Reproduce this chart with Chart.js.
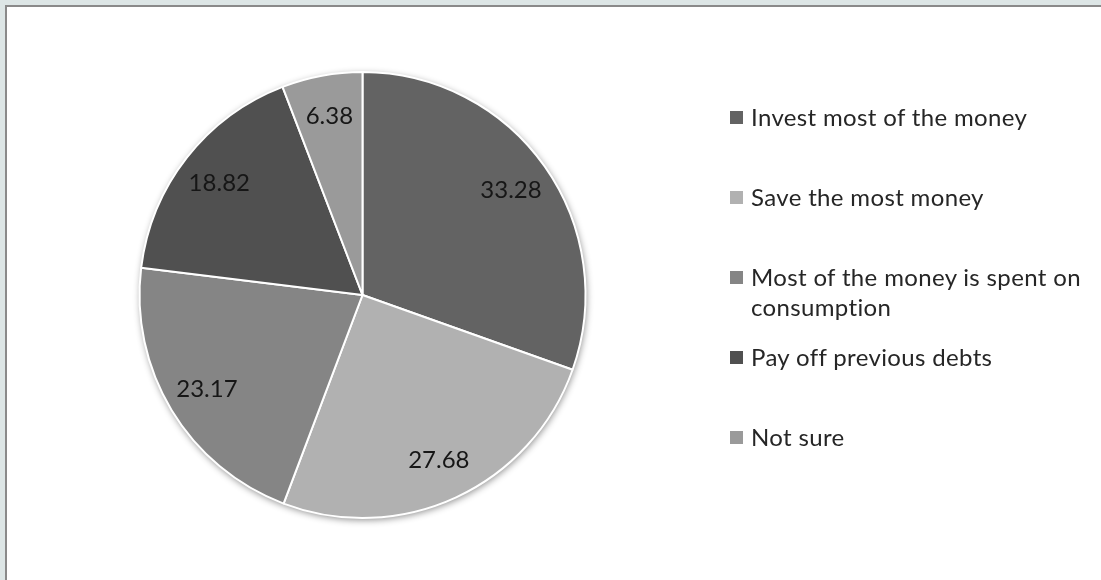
<!DOCTYPE html>
<html>
<head>
<meta charset="utf-8">
<script src="https://cdn.jsdelivr.net/npm/chart.js"></script>
<style>
  html, body { margin: 0; padding: 0; }
  body {
    width: 1101px; height: 580px; overflow: hidden; position: relative;
    background: #dde6e6;
    font-family: Lato, "Open Sans", sans-serif;
  }
  #frame {
    position: absolute; left: 5px; top: 5px; width: 1120px; height: 600px;
    background: #fff; border: 2px solid #8a8a8a;
  }
  #chartBox { position: absolute; left: 0; top: 0; width: 1101px; height: 580px; }
  #legend { position: absolute; left: 730px; top: 0; }
  .item { position: absolute; left: 0; width: 362px; }
  .item .sw { position: absolute; left: 0; top: 9px; width: 13px; height: 13px; }
  .item .tx { margin-left: 21px; font-size: 24px; letter-spacing: 0.35px; line-height: 30px; color: #262626; }
</style>
</head>
<body>
<div id="frame"></div>
<div id="chartBox"><canvas id="mycanvas"></canvas></div>
<div id="legend"></div>
<script>
var categories = ['Invest most of the money', 'Save the most money', 'Most of the money is spent on consumption', 'Pay off previous debts', 'Not sure'];
var shares = [33.28, 27.68, 23.17, 18.82, 6.38];
var sliceColors = ['#636363', '#b1b1b1', '#858585', '#505050', '#9a9a9a'];

// legend on the right, built from the same arrays
var legend = document.getElementById('legend');
for (var i = 0; i < categories.length; i++) {
  var it = document.createElement('div');
  it.className = 'item';
  it.style.top = (102 + i * 80) + 'px';
  it.innerHTML = '<div class="sw" style="background:' + sliceColors[i] + '"></div><div class="tx">' + categories[i] + '</div>';
  legend.appendChild(it);
}

// soft shadow under the pie
var pieShadow = {
  id: 'pieShadow',
  beforeDatasetsDraw: function(chart) {
    var arc = chart.getDatasetMeta(0).data[0];
    if (!arc) return;
    var c = chart.ctx;
    c.save();
    c.shadowColor = 'rgba(0,0,0,0.45)';
    c.shadowBlur = 7;
    c.shadowOffsetX = 1;
    c.shadowOffsetY = 2;
    c.beginPath();
    c.arc(arc.x, arc.y, arc.outerRadius, 0, Math.PI * 2);
    c.fillStyle = '#fff';
    c.fill();
    c.restore();
  }
};

// value labels inside the slices
var sliceLabels = {
  id: 'sliceLabels',
  afterDatasetsDraw: function(chart) {
    var c = chart.ctx;
    var meta = chart.getDatasetMeta(0);
    c.save();
    c.font = '24px Lato, "Open Sans", sans-serif';
    c.fillStyle = '#161616';
    c.textAlign = 'center';
    c.textBaseline = 'middle';
    meta.data.forEach(function(arc, i) {
      var mid = (arc.startAngle + arc.endAngle) / 2;
      var r = arc.outerRadius * 0.815;
      c.fillText(shares[i].toFixed(2), arc.x + Math.cos(mid) * r, arc.y + Math.sin(mid) * r);
    });
    c.restore();
  }
};

var ctx = document.getElementById('mycanvas');
var pieGraph = new Chart(ctx, {
  type: 'pie',
  data: {
    labels: categories,
    datasets: [{
      data: shares,
      backgroundColor: sliceColors,
      borderColor: '#ffffff',
      borderWidth: 2
    }]
  },
  options: {
    responsive: true,
    maintainAspectRatio: false,
    animation: false,
    layout: { padding: { left: 138, right: 514, top: 71, bottom: 61 } },
    plugins: { legend: { display: false }, tooltip: { enabled: false } }
  },
  plugins: [pieShadow, sliceLabels]
});
</script>
</body>
</html>
